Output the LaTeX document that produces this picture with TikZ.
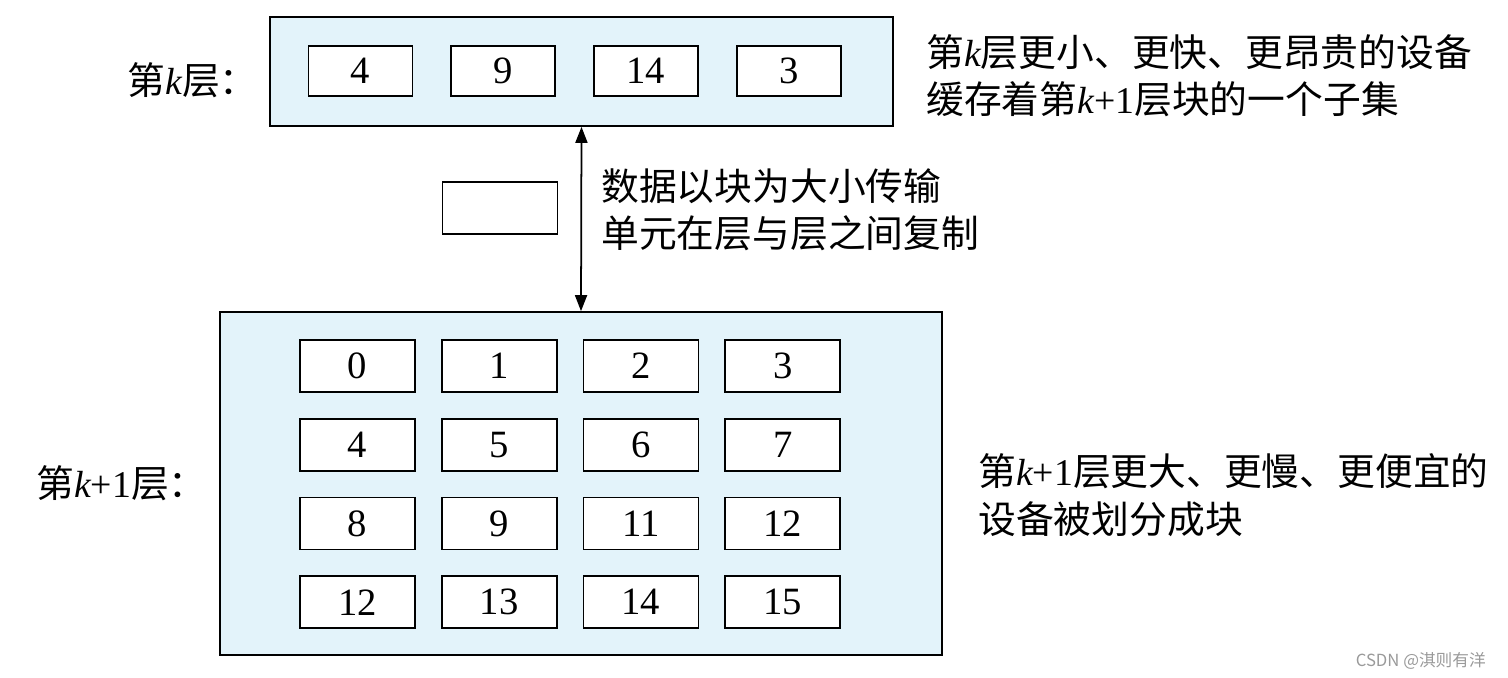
\documentclass[tikz,border=0pt]{standalone}
\usepackage{fontspec}
\setmainfont{Liberation Serif}
\newfontfamily\cjk{Noto Sans CJK SC}
\usetikzlibrary{arrows.meta, positioning}
\definecolor{LevelBlue}{HTML}{E3F3FA}
\definecolor{MarkGray}{HTML}{9A9A9A}
\newcommand{\kvar}{{\rmfamily\itshape k}}
\newcommand{\kone}{{\rmfamily\itshape k\upshape +1}}
\tikzset{
  levelbox/.style={draw=black, fill=LevelBlue, rectangle, line width=1pt,
                   inner sep=0pt},
  blkbox/.style={draw=black, fill=white, rectangle, line width=1pt,
                 minimum width=2.3cm, minimum height=1.04cm, inner sep=0pt,
                 font=\fontsize{22}{22}\selectfont},
  topblk/.style={blkbox, minimum width=2.08cm, minimum height=1cm},
  cntext/.style={font=\cjk\fontsize{21.5}{27}\selectfont, align=left, inner sep=0pt},
  arrowcopy/.style={{Triangle[length=3.2mm, width=2.4mm]}-{Triangle[length=3.2mm, width=2.4mm]},
                    line width=1pt}
}

\begin{document}
\begin{tikzpicture}[x=0.02cm, y=-0.02cm]
  \useasboundingbox (0,0) rectangle (1508,678);

  % level k
  \node[levelbox, minimum width=12.46cm, minimum height=2.18cm] (klevel) at (581.5,71.5) {};
  \node[topblk]                        (kblk1) at (360.5,71) {4};
  \node[topblk, right=0.74cm of kblk1] (kblk2) {9};
  \node[topblk, right=0.74cm of kblk2] (kblk3) {14};
  \node[topblk, right=0.74cm of kblk3] (kblk4) {3};

  % level k+1
  \node[levelbox, minimum width=14.44cm, minimum height=6.86cm] (k1level) at (581,483.5) {};
  \node[blkbox]                       (blk0)  at (357.5,366) {0};
  \node[blkbox, right=0.5cm of blk0]  (blk1)  {1};
  \node[blkbox, right=0.5cm of blk1]  (blk2)  {2};
  \node[blkbox, right=0.5cm of blk2]  (blk3)  {3};
  \node[blkbox, below=0.5cm of blk0]  (blk4)  {4};
  \node[blkbox, right=0.5cm of blk4]  (blk5)  {5};
  \node[blkbox, right=0.5cm of blk5]  (blk6)  {6};
  \node[blkbox, right=0.5cm of blk6]  (blk7)  {7};
  \node[blkbox, below=0.5cm of blk4]  (blk8)  {8};
  \node[blkbox, right=0.5cm of blk8]  (blk9)  {9};
  \node[blkbox, right=0.5cm of blk9]  (blk10) {11};
  \node[blkbox, right=0.5cm of blk10] (blk11) {12};
  \node[blkbox, below=0.5cm of blk8]  (blk12) {12};
  \node[blkbox, right=0.5cm of blk12] (blk13) {13};
  \node[blkbox, right=0.5cm of blk13] (blk14) {14};
  \node[blkbox, right=0.5cm of blk14] (blk15) {15};

  % block in transit
  \node[blkbox] (moving) at (500,208) {};
  \draw[arrowcopy] (klevel.south) -- (k1level.north);

  % labels
  \node[cntext, anchor=east] (klabel)   at (258,80)  {第\kvar 层：};
  \node[cntext, anchor=east] (k1label)  at (207,483) {第\kone 层：};
  \node[cntext, anchor=west] (kdesc)    at (926,76)  {第\kvar 层更小、更快、更昂贵的设备\\缓存着第\kone 层块的一个子集};
  \node[cntext, anchor=west] (copydesc) at (601,210) {数据以块为大小传输\\单元在层与层之间复制};
  \node[cntext, anchor=west] (k1desc)   at (978,495) {第\kone 层更大、更慢、更便宜的\\设备被划分成块};
  \node[font=\cjk\fontsize{9.5}{10}\selectfont, text=MarkGray, anchor=east] (mark) at (1492,661) {CSDN @淇则有洋};
\end{tikzpicture}
\end{document}
